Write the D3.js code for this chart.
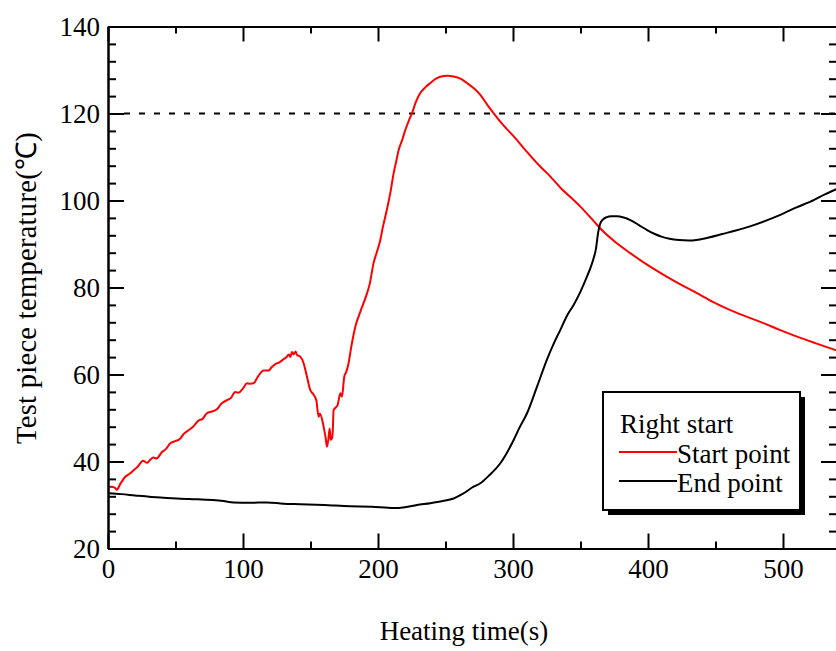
<!DOCTYPE html>
<html>
<head>
<meta charset="utf-8">
<script src="https://cdn.jsdelivr.net/npm/d3@7"></script>
<style>
  html, body { margin: 0; padding: 0; background: #fff; }
  svg text { font-family: "Liberation Serif", "Times New Roman", serif; fill: #000; }
</style>
</head>
<body>
<svg id="chart" width="836" height="651"></svg>
<script>
// ---- data ----
const startTime = [0.5,2,5,6.5,9,12.8,16,19,22,25.9,28.9,31,33.8,36,40,43,46.1,49,53.6,56,59.7,63,67.1,70,73.3,77,80.7,84,88.1,91,94.3,96.8,100,103,105,107.9,111,115.3,119,121,123.9,127,130,132,134,135,136.3,137.5,139,140,142.4,144.9,147,149.9,152,154.3,156,157,159.2,160,161.2,162.2,163.2,164.2,165,165.9,166.5,167.1,170.1,172.1,173.3,175,176.5,178.2,180,183.2,187,191.9,194,196.7,199,201.7,203,205.4,207,209.1,211.6,213.5,215.3,218,220.2,223,225.2,228,231.3,235,238.7,243,248.6,252,256,261,265.9,271,275.8,281,285.6,292,300.4,310,320.2,325.2,335,349.9,360,367.1,376,386.9,399,411.6,424,436.3,448,461,473,485.6,498,510.4,525,540];
const startTemp = [34.0,34.2,34.0,33.5,34.8,36.5,37.2,38.0,38.8,40.2,39.7,40.3,40.9,40.7,42.2,42.9,44.2,44.6,45.3,46.3,47.2,48.0,49.4,49.8,51.1,51.5,52.0,53.3,54.1,54.6,56.0,55.8,56.8,58.0,57.9,58.0,59.5,60.9,60.9,61.6,62.4,62.8,63.5,63.9,64.6,64.0,65.2,64.6,65.3,64.5,64.1,62.6,60.0,56.4,55.5,54.1,50.3,51.0,48.8,47.5,45.5,43.4,45.0,47.6,45.0,45.3,47.0,51.8,53.0,55.7,54.9,59.5,60.6,62.6,66.0,71.0,74.5,78.7,81.0,85.6,88.0,90.9,93.0,96.3,98.5,101.7,106.3,109.0,111.6,114.0,116.2,118.5,120.1,122.6,124.7,126.0,127.0,128.0,128.6,128.7,128.5,128.0,127.0,125.8,124.3,122.0,120.1,117.6,114.8,111.3,107.8,106.3,103.0,98.6,95.2,92.8,90.4,87.9,85.3,82.9,80.7,78.7,76.7,74.8,73.3,71.8,70.2,68.7,67.1,65.5];

const endTime = [0.5,10,20,38.7,60,85.6,93,105,117.8,130,142.4,160,179.5,195,211.6,220,228.9,238.7,248,256,263,270.8,275.8,282,290.6,300.4,305,310.4,317.8,325.2,330,335,340,344.9,349.9,353,356.5,359.5,361.5,363,364.5,366.5,369,373,377,382,386.9,393,399.3,405,410,416,423,430,437,445,455,465,475,486,498,510,522.7,531,539.5];
const endTemp = [32.7,32.5,32.2,31.7,31.4,30.9,30.6,30.5,30.6,30.3,30.2,30.0,29.7,29.6,29.3,29.5,30.0,30.4,30.9,31.5,32.6,34.2,35.0,36.7,39.6,44.9,47.9,51.1,57.2,63.5,67.0,70.2,73.5,76.0,79.0,81.2,83.8,86.5,89.0,92.5,94.6,95.6,96.1,96.4,96.4,96.1,95.5,94.4,93.2,92.3,91.7,91.2,90.9,90.8,91.0,91.5,92.3,93.1,94.0,95.2,96.7,98.4,100.1,101.4,102.6];

const xMajorTicks = [0,100,200,300,400,500];
const xMinorTicks = [50,150,250,350,450];
const yMajorTicks = [20,40,60,80,100,120,140];
const yMinorTicks = d3.range(24,140,4).filter(v => v % 20 !== 0);
const thresholdTemp = 120;

const legendTitle = "Right start";
const seriesNames = ["Start point","End point"];
const seriesColors = ["#ff0000","#000000"];
const xTitle = "Heating time(s)";
const yTitle = "Test piece temperature(\u2103)";

// ---- layout ----
const svg = d3.select("#chart");
const L = 108, R = 837, T = 26.5, B = 548.5;
const x = d3.scaleLinear().domain([0,540]).range([L,R]);
const y = d3.scaleLinear().domain([20,140]).range([B,T]);

svg.append("defs").append("clipPath").attr("id","clip")
  .append("rect").attr("x",L).attr("y",T).attr("width",R-L).attr("height",B-T);

// threshold dashed line
svg.append("line")
  .attr("x1", L+16).attr("x2", R).attr("y1", y(thresholdTemp)).attr("y2", y(thresholdTemp))
  .attr("stroke","#000").attr("stroke-width",1.8).attr("stroke-dasharray","6,9");

// lines
const line = d3.line().x(d => x(d[0])).y(d => y(d[1])).curve(d3.curveMonotoneX);
const series = [
  d3.zip(startTime, startTemp),
  d3.zip(endTime, endTemp)
];
const g = svg.append("g").attr("clip-path","url(#clip)");
series.forEach((s,i) => {
  g.append("path").datum(s).attr("d", line)
    .attr("fill","none").attr("stroke", seriesColors[i]).attr("stroke-width",2)
    .attr("stroke-linejoin","round");
});

// axes
function styleAxis(sel){
  sel.selectAll("path.domain").attr("stroke","#000").attr("stroke-width",2);
  sel.selectAll(".tick line").attr("stroke","#000").attr("stroke-width",2);
  sel.selectAll("text").attr("font-size",27).attr("font-family","Liberation Serif, serif");
}
// bottom
svg.append("g").attr("transform",`translate(0,${B})`)
  .call(d3.axisBottom(x).tickValues(xMajorTicks).tickSize(-15).tickSizeOuter(0).tickPadding(10).tickFormat(d3.format("d")))
  .call(styleAxis);
svg.append("g").attr("transform",`translate(0,${B})`)
  .call(d3.axisBottom(x).tickValues(xMinorTicks).tickSize(-7).tickSizeOuter(0).tickFormat(""))
  .call(styleAxis);
// top
svg.append("g").attr("transform",`translate(0,${T})`)
  .call(d3.axisTop(x).tickValues(xMajorTicks).tickSize(-15).tickSizeOuter(0).tickFormat(""))
  .call(styleAxis);
svg.append("g").attr("transform",`translate(0,${T})`)
  .call(d3.axisTop(x).tickValues(xMinorTicks).tickSize(-7).tickSizeOuter(0).tickFormat(""))
  .call(styleAxis);
// left
svg.append("g").attr("transform",`translate(${L},0)`)
  .call(d3.axisLeft(y).tickValues(yMajorTicks).tickSize(-16).tickSizeOuter(0).tickPadding(8).tickFormat(d3.format("d")))
  .call(styleAxis);
svg.append("g").attr("transform",`translate(${L},0)`)
  .call(d3.axisLeft(y).tickValues(yMinorTicks).tickSize(-8).tickSizeOuter(0).tickFormat(""))
  .call(styleAxis);
// right
svg.append("g").attr("transform",`translate(${R},0)`)
  .call(d3.axisRight(y).tickValues(yMajorTicks).tickSize(-16).tickSizeOuter(0).tickFormat(""))
  .call(styleAxis);
svg.append("g").attr("transform",`translate(${R},0)`)
  .call(d3.axisRight(y).tickValues(yMinorTicks).tickSize(-8).tickSizeOuter(0).tickFormat(""))
  .call(styleAxis);

// titles
svg.append("text").attr("x", 464).attr("y", 640).attr("text-anchor","middle")
  .attr("font-size",27).text(xTitle);
svg.append("text").attr("transform","translate(36,288) rotate(-90)").attr("text-anchor","middle")
  .attr("font-size",28.5).attr("letter-spacing",0.3).text(yTitle);

// legend
const lg = svg.append("g");
lg.append("rect").attr("x",608).attr("y",397).attr("width",197).attr("height",118).attr("fill","#000");
lg.append("rect").attr("x",603).attr("y",392).attr("width",197).attr("height",118)
  .attr("fill","#fff").attr("stroke","#000").attr("stroke-width",2);
lg.append("text").attr("x",620).attr("y",433).attr("font-size",27).text(legendTitle);
seriesNames.forEach((n,i) => {
  const yy = 452 + i*29;
  lg.append("line").attr("x1",619).attr("x2",677).attr("y1",yy).attr("y2",yy)
    .attr("stroke",seriesColors[i]).attr("stroke-width",1.8);
  lg.append("text").attr("x",677).attr("y",yy+11).attr("font-size",27).text(n);
});
</script>
</body>
</html>
